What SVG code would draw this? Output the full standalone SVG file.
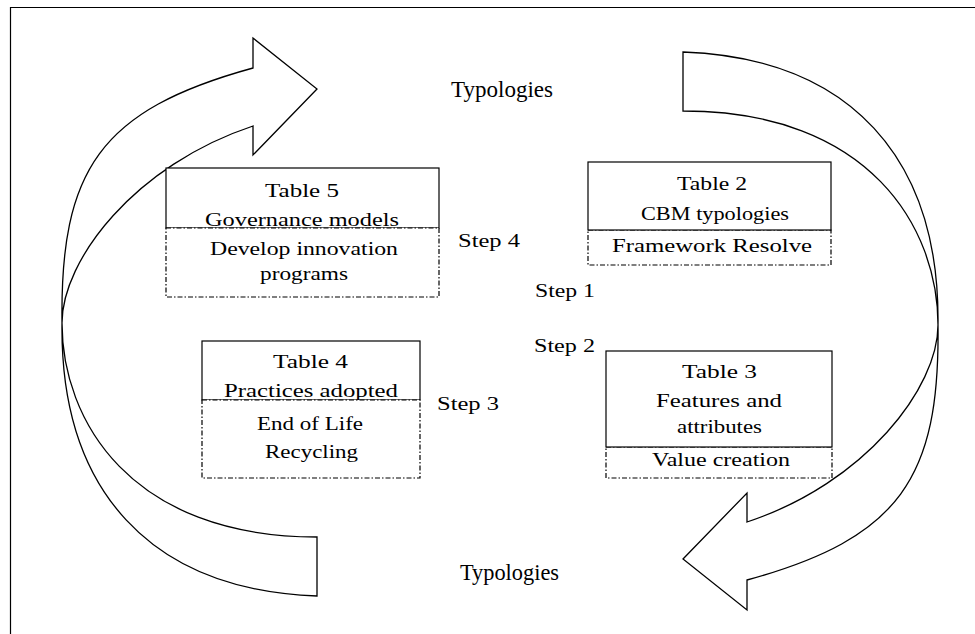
<svg xmlns="http://www.w3.org/2000/svg" width="975" height="634" viewBox="0 0 975 634">
<style>
.t{font-family:"Liberation Serif","Times New Roman",serif;font-size:18px;fill:#000}
.big{font-size:23px}
.solid{fill:#fff;stroke:#000;stroke-width:1.2}
.dash{fill:#fff;stroke:#000;stroke-width:1.2;stroke-dasharray:5 2 1.5 2}
.arrow{fill:none;stroke:#000;stroke-width:1.3;stroke-linejoin:miter}
</style>
<rect width="975" height="634" fill="#fff"/>
<path d="M10.5,634 V7.5 H975" fill="none" stroke="#000" stroke-width="1.2"/>
<g id="connectors">
<path id="arrow-left" class="arrow" d="M317,537 C130,537 62,420 62,323 C62,260 135,165 253,126 L253,155 L317,89 L253,38 L253,68 C100,110 60,170 62,323 C60,490 150,590 317,596 Z"/>
<path id="arrow-right" class="arrow" transform="rotate(180 500 324)" d="M317,537 C130,537 62,420 62,323 C62,260 135,165 253,126 L253,155 L317,89 L253,38 L253,68 C100,110 60,170 62,323 C60,490 150,590 317,596 Z"/>
</g>
<g id="table5">
<rect class="solid" x="166" y="168" width="273" height="60"/>
<text class="t" x="265" y="197" textLength="74" lengthAdjust="spacingAndGlyphs">Table 5</text>
<text class="t" x="205" y="226" textLength="194" lengthAdjust="spacingAndGlyphs">Governance models</text>
<rect class="dash" x="166" y="228" width="273" height="69"/>
<text class="t" x="210" y="255" textLength="188" lengthAdjust="spacingAndGlyphs">Develop innovation</text>
<text class="t" x="260" y="280" textLength="88" lengthAdjust="spacingAndGlyphs">programs</text>
</g>
<g id="table2">
<rect class="dash" x="588" y="230" width="243" height="35"/>
<rect class="solid" x="588" y="162" width="243" height="68"/>
<text class="t" x="677" y="190" textLength="70" lengthAdjust="spacingAndGlyphs">Table 2</text>
<text class="t" x="641" y="220" textLength="148" lengthAdjust="spacingAndGlyphs">CBM typologies</text>
<text class="t" x="612" y="252" textLength="200" lengthAdjust="spacingAndGlyphs">Framework Resolve</text>
</g>
<g id="table3">
<rect class="dash" x="606" y="447" width="226" height="31"/>
<rect class="solid" x="606" y="351" width="226" height="96"/>
<text class="t" x="682" y="378" textLength="75" lengthAdjust="spacingAndGlyphs">Table 3</text>
<text class="t" x="656" y="407" textLength="126" lengthAdjust="spacingAndGlyphs">Features and</text>
<text class="t" x="677" y="433" textLength="85" lengthAdjust="spacingAndGlyphs">attributes</text>
<text class="t" x="652" y="466" textLength="138" lengthAdjust="spacingAndGlyphs">Value creation</text>
</g>
<g id="table4">
<rect class="solid" x="202" y="341" width="218" height="59"/>
<text class="t" x="273" y="368" textLength="75" lengthAdjust="spacingAndGlyphs">Table 4</text>
<text class="t" x="224" y="397" textLength="174" lengthAdjust="spacingAndGlyphs">Practices adopted</text>
<rect class="dash" x="202" y="400" width="218" height="78"/>
<text class="t" x="257" y="430" textLength="106" lengthAdjust="spacingAndGlyphs">End of Life</text>
<text class="t" x="265" y="458" textLength="93" lengthAdjust="spacingAndGlyphs">Recycling</text>
</g>
<g id="labels">
<text class="t big" x="451" y="97" textLength="102" lengthAdjust="spacingAndGlyphs">Typologies</text>
<text class="t big" x="460" y="580" textLength="99" lengthAdjust="spacingAndGlyphs">Typologies</text>
<text class="t" x="458" y="247" textLength="62" lengthAdjust="spacingAndGlyphs">Step 4</text>
<text class="t" x="535" y="297" textLength="60" lengthAdjust="spacingAndGlyphs">Step 1</text>
<text class="t" x="534" y="352" textLength="61" lengthAdjust="spacingAndGlyphs">Step 2</text>
<text class="t" x="437" y="410" textLength="62" lengthAdjust="spacingAndGlyphs">Step 3</text>
</g>
</svg>
